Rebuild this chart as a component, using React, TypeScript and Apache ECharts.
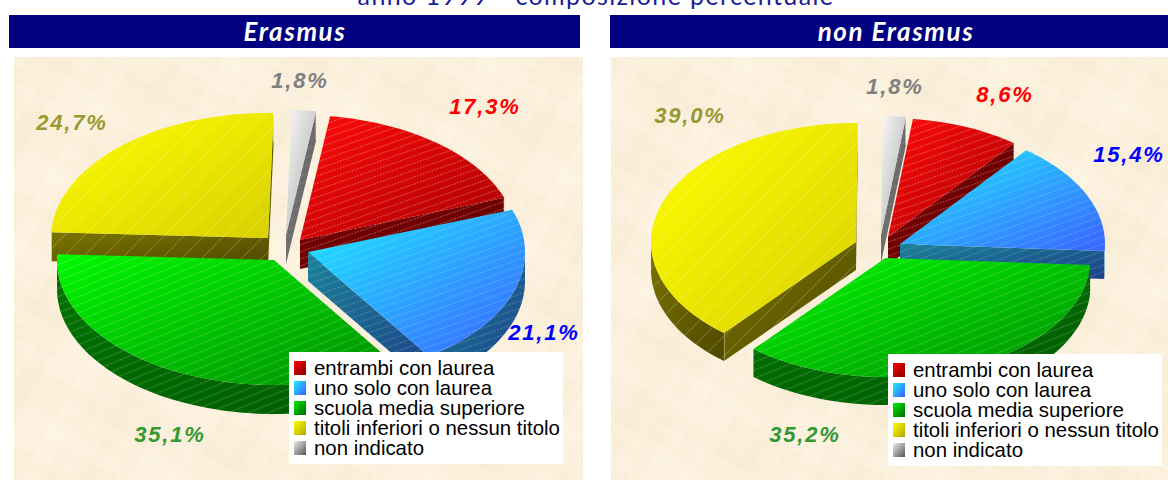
import React, { useEffect, useRef } from "react";
import * as echarts from "echarts";

const titleText = "anno 1999 - composizione percentuale";
const panelTitles = ["Erasmus", "non Erasmus"];
const categories = ["entrambi con laurea", "uno solo con laurea", "scuola media superiore", "titoli inferiori o nessun titolo", "non indicato"];
const erasmusValues = [17.3, 21.1, 35.1, 24.7, 1.8];
const nonErasmusValues = [8.6, 15.4, 35.2, 39.0, 1.8];

// Styles, per category
const topColors = [
  ["#ff0a0a", "#a80000"],
  ["#1cecff", "#3b62ff"],
  ["#00fa00", "#008c00"],
  ["#ffff00", "#d8d000"],
  ["#f8f8f8", "#a8a8a8"],
];
const wallColors = [
  ["#7c0000", "#640000"],
  ["#1a8298", "#1c4088"],
  ["#007400", "#005c00"],
  ["#7a7400", "#4e4800"],
  ["#808080", "#585858"],
];
const legendColors = [
  ["#ff0000", "#800000"],
  ["#1cf0ff", "#3a5cff"],
  ["#00f000", "#006800"],
  ["#ffff00", "#b0a800"],
  ["#eeeeee", "#555555"],
];
const labelColors = ["#ff0000", "#0000ff", "#339933", "#999933", "#808080"];
const hatches = [
  { w: 20, h: 7, a: 0.22 },
  { w: 20, h: 7, a: 0.16 },
  { w: 20, h: 8, a: 0.2 },
  { w: 20, h: 20, a: 0.2 },
  { w: 20, h: 8, a: 0.1 },
];
const drawOrder = [4, 0, 1, 3, 2];

// Layout of the two exploded pies
const layouts = [
  {
    values: erasmusValues,
    rx: 217, ry: 125, depth: 29, rotation: 1.5,
    apex: [[300, 240], [308, 252], [274, 260], [268, 238], [286, 235]],
    labels: [[485, 106], [544, 332], [170, 434], [72, 122], [300, 80]],
    legend: { left: 289, top: 352 },
  },
  {
    values: nonErasmusValues,
    rx: 205, ry: 119, depth: 28, rotation: 0.5,
    apex: [[888, 237], [900, 244], [885.5, 258], [856, 242], [881, 235]],
    labels: [[1005, 94], [1129, 154], [805, 434], [690, 115], [895, 86]],
    legend: { left: 888, top: 354 },
  },
];

const gradient = (c: string[]) => ({
  type: "linear", x: 0, y: 0, x2: 1, y2: 1,
  colorStops: [{ offset: 0, color: c[0] }, { offset: 1, color: c[1] }],
});

function hatchPattern(w: number, h: number, alpha: number) {
  const c = document.createElement("canvas");
  c.width = w; c.height = h;
  const g = c.getContext("2d")!;
  g.strokeStyle = `rgba(255,255,255,${alpha})`;
  g.lineWidth = 1.4;
  g.setLineDash([2, 1]);
  g.beginPath();
  for (const dy of [-h, 0, h]) {
    g.moveTo(0, h + dy);
    g.lineTo(w, dy);
  }
  g.stroke();
  return { image: c.toDataURL(), repeat: "repeat", imageWidth: w, imageHeight: h };
}

function paperPattern() {
  const S = 256;
  const c = document.createElement("canvas");
  c.width = S; c.height = S;
  const g = c.getContext("2d")!;
  const img = g.createImageData(S, S);
  const T = (2 * Math.PI) / S;
  for (let y = 0; y < S; y++) {
    for (let x = 0; x < S; x++) {
      const cloud =
        Math.sin(T * (2 * x + y) + 1) + Math.sin(T * (3 * y - x) + 2) +
        0.7 * Math.sin(T * (7 * x + 4 * y)) + 0.7 * Math.sin(T * (5 * x - 8 * y) + 4) +
        0.5 * Math.sin(T * (19 * x + 11 * y)) + 0.5 * Math.sin(T * (13 * x - 23 * y));
      const grain = ((x * 73 + y * 151 + ((x * y) % 97) * 31) % 17) / 17 - 0.5;
      const d = cloud * 1.3 + grain * 3;
      const i = (y * S + x) * 4;
      img.data[i] = 251 + d * 0.6;
      img.data[i + 1] = 240 + d;
      img.data[i + 2] = 220 + d * 1.5;
      img.data[i + 3] = 255;
    }
  }
  g.putImageData(img, 0, 0);
  return { image: c.toDataURL(), repeat: "repeat", imageWidth: S, imageHeight: S };
}

function sliceRenderer(layout: any, idx: number, hatch: any) {
  const { values, rx, ry, depth, rotation, apex, labels } = layout;
  const total = values.reduce((s: number, v: number) => s + v, 0);
  const before = values.slice(0, idx).reduce((s: number, v: number) => s + v, 0);
  // the "non indicato" slice opens the circle at 12 o'clock
  const last = values[values.length - 1];
  const isLast = idx === values.length - 1;
  const from = isLast ? 0 : ((before + last) / total) * 360;
  const to = from + (values[idx] / total) * 360;
  const a = from + rotation;
  const b = to + rotation;
  const [ax, ay] = apex[idx];
  const pt = (deg: number, drop = 0) => {
    const t = (deg * Math.PI) / 180;
    return [ax + rx * Math.sin(t), ay - ry * Math.cos(t) + drop];
  };
  const arc = (s: number, e: number, drop = 0) => {
    const out: number[][] = [];
    const n = Math.max(2, Math.ceil((e - s) / 2));
    for (let i = 0; i <= n; i++) out.push(pt(s + ((e - s) * i) / n, drop));
    return out;
  };
  return () => {
    const children: any[] = [];
    const wallFill = gradient(wallColors[idx]);
    const face = (deg: number) => {
      const p = pt(deg);
      const q = pt(deg, depth);
      const pts = [[ax, ay], p, q, [ax, ay + depth]];
      children.push({ type: "polygon", shape: { points: pts }, style: { fill: wallFill } });
      children.push({ type: "polygon", shape: { points: pts }, style: { fill: hatch } });
      children.push({
        type: "line",
        shape: { x1: p[0], y1: p[1], x2: q[0], y2: q[1] },
        style: { stroke: "rgba(255,255,255,0.75)", lineWidth: 1 },
      });
    };
    const rad = Math.PI / 180;
    if (Math.sin(a * rad) < 0) face(a);
    if (Math.sin(b * rad) > 0) face(b);
    const s = Math.max(a, 90);
    const e = Math.min(b, 270);
    if (e > s) {
      const pts = [...arc(s, e), ...arc(s, e, depth).reverse()];
      children.push({ type: "polygon", shape: { points: pts }, style: { fill: wallFill } });
      children.push({ type: "polygon", shape: { points: pts }, style: { fill: hatch } });
    }
    const top = [[ax, ay], ...arc(a, b)];
    children.push({ type: "polygon", shape: { points: top }, style: { fill: gradient(topColors[idx]) } });
    children.push({ type: "polygon", shape: { points: top }, style: { fill: hatch } });
    children.push({
      type: "text",
      z2: 50,
      style: {
        text: values[idx].toFixed(1).replace(".", ",") + "%",
        x: labels[idx][0],
        y: labels[idx][1],
        align: "center",
        verticalAlign: "middle",
        fill: labelColors[idx],
        font: 'italic bold 22px "Liberation Sans"',
      },
    });
    return { type: "group", children };
  };
}

export default function App() {
  const ref = useRef<HTMLDivElement>(null);
  useEffect(() => {
    document.body.style.margin = "0";
    document.body.style.background = "#fff";
    const chart = echarts.init(ref.current!, undefined, { renderer: "svg" });
    const paper = paperPattern();
    const patterns = hatches.map((h) => hatchPattern(h.w, h.h, h.a));
    const series: any[] = [];
    layouts.forEach((layout) => {
      drawOrder.forEach((idx) => {
        series.push({
          type: "custom",
          name: categories[idx],
          coordinateSystem: "none",
          silent: true,
          clip: false,
          itemStyle: { color: topColors[idx][0] },
          data: [{ name: categories[idx], value: layout.values[idx] }],
          renderItem: sliceRenderer(layout, idx, patterns[idx]),
        });
      });
    });
    const legendData = categories.map((name, i) => ({
      name,
      icon: "rect",
      itemStyle: { color: gradient(legendColors[i]) },
    }));
    chart.setOption({
      animation: false,
      backgroundColor: "#ffffff",
      legend: layouts.map((l) => ({
        show: true,
        orient: "vertical",
        left: l.legend.left,
        top: l.legend.top,
        height: 112,
        selectedMode: false,
        backgroundColor: "#ffffff",
        padding: [6, 3, 6, 5],
        itemWidth: 12,
        itemHeight: 14,
        itemGap: 0,
        textStyle: { color: "#000", fontFamily: "Liberation Sans", fontSize: 20.4, lineHeight: 20, padding: [0, 0, 0, 3] },
        data: legendData,
      })),
      graphic: [
        { type: "rect", z: -5, shape: { x: 14, y: 57, width: 569, height: 423 }, style: { fill: paper } },
        { type: "rect", z: -5, shape: { x: 611, y: 57, width: 557, height: 423 }, style: { fill: paper } },
        { type: "rect", z: -4, shape: { x: 9, y: 15, width: 571, height: 33 }, style: { fill: "#000080" } },
        { type: "rect", z: -4, shape: { x: 610, y: 15, width: 558, height: 33 }, style: { fill: "#000080" } },
        {
          type: "text", z: 10,
          style: { text: panelTitles[0], x: 295, y: 31, align: "center", verticalAlign: "middle", fill: "#fff", font: 'italic bold 26px "Lato"' },
        },
        {
          type: "text", z: 10,
          style: { text: panelTitles[1], x: 896, y: 31, align: "center", verticalAlign: "middle", fill: "#fff", font: 'italic bold 26px "Lato"' },
        },
        {
          type: "text", z: 10,
          style: { text: titleText, x: 596, y: -5, align: "center", verticalAlign: "middle", fill: "#1c1c96", font: '25px "Lato"' },
        },
      ],
      series,
    });
    ref.current!.querySelectorAll("text").forEach((t) => {
      const s = t.textContent || "";
      if (/%$/.test(s)) (t as any).style.letterSpacing = "1.8px";
      if (s === titleText) (t as any).style.letterSpacing = "1.4px";
      if (panelTitles.includes(s)) (t as any).style.letterSpacing = "1.6px";
    });
    return () => chart.dispose();
  }, []);
  return <div ref={ref} style={{ width: 1168, height: 480 }} />;
}
